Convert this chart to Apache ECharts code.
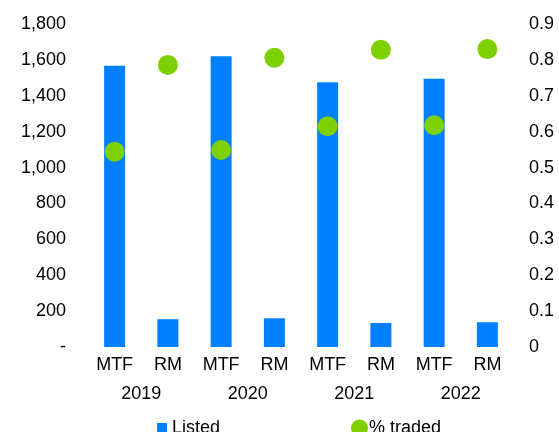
<!DOCTYPE html>
<html>
<head>
<meta charset="utf-8">
<script src="https://cdn.jsdelivr.net/npm/echarts@6/dist/echarts.min.js"></script>
<style>html,body{margin:0;padding:0;background:#fff}#c{width:559px;height:432px}</style>
</head>
<body>
<div id="c"></div>
<script>
var categories = ['MTF','RM','MTF','RM','MTF','RM','MTF','RM'];
var years = ['2019','2020','2021','2022'];
var listed = [1568, 155, 1620, 160, 1475, 134, 1495, 138];
var traded = [0.544, 0.786, 0.549, 0.806, 0.615, 0.828, 0.618, 0.830];

var font = 'Liberation Sans, Arial, sans-serif';
var chart = echarts.init(document.getElementById('c'));
chart.setOption({
  animation: false,
  textStyle: {fontFamily: font},
  grid: {left: 88, right: 45, top: 24, bottom: 85},
  legend: [
    {data: ['Listed'], left: 157, top: 419, padding: 0, icon: 'rect', itemWidth: 10, itemHeight: 10,
     textStyle: {fontSize: 18, color: '#000', fontFamily: font}},
    {data: ['% traded'], left: 351, top: 419, padding: 0, icon: 'circle', itemWidth: 17, itemHeight: 17,
     textStyle: {fontSize: 18, color: '#000', fontFamily: font, padding: [0,0,0,-4]}}
  ],
  xAxis: [
    {type: 'category', data: categories, axisLine: {show: false}, axisTick: {show: false},
     axisLabel: {fontSize: 18, color: '#000', margin: 9, fontFamily: font}},
    {type: 'category', data: years, position: 'bottom', axisLine: {show: false}, axisTick: {show: false},
     axisLabel: {fontSize: 18, color: '#000', margin: 38, fontFamily: font}}
  ],
  yAxis: [
    {type: 'value', min: 0, max: 1800, interval: 200, splitLine: {show: false},
     axisLine: {show: false}, axisTick: {show: false},
     axisLabel: {fontSize: 18, color: '#000', margin: 22, fontFamily: font,
       formatter: function (v) { return v === 0 ? '-' : v.toLocaleString('en-US'); }}},
    {type: 'value', min: 0, max: 0.9, interval: 0.1, splitLine: {show: false},
     axisLine: {show: false}, axisTick: {show: false},
     axisLabel: {fontSize: 18, color: '#000', margin: 15, fontFamily: font,
       formatter: function (v) { return v === 0 ? '0' : v.toFixed(1); }}}
  ],
  series: [
    {name: 'Listed', type: 'bar', data: listed, xAxisIndex: 0, yAxisIndex: 0, barWidth: 21,
     itemStyle: {color: '#0080FF'}},
    {name: '% traded', type: 'scatter', data: traded, xAxisIndex: 0, yAxisIndex: 1, symbolSize: 20,
     itemStyle: {color: '#7ED000', opacity: 1}, z: 5}
  ]
});
</script>
</body>
</html>
